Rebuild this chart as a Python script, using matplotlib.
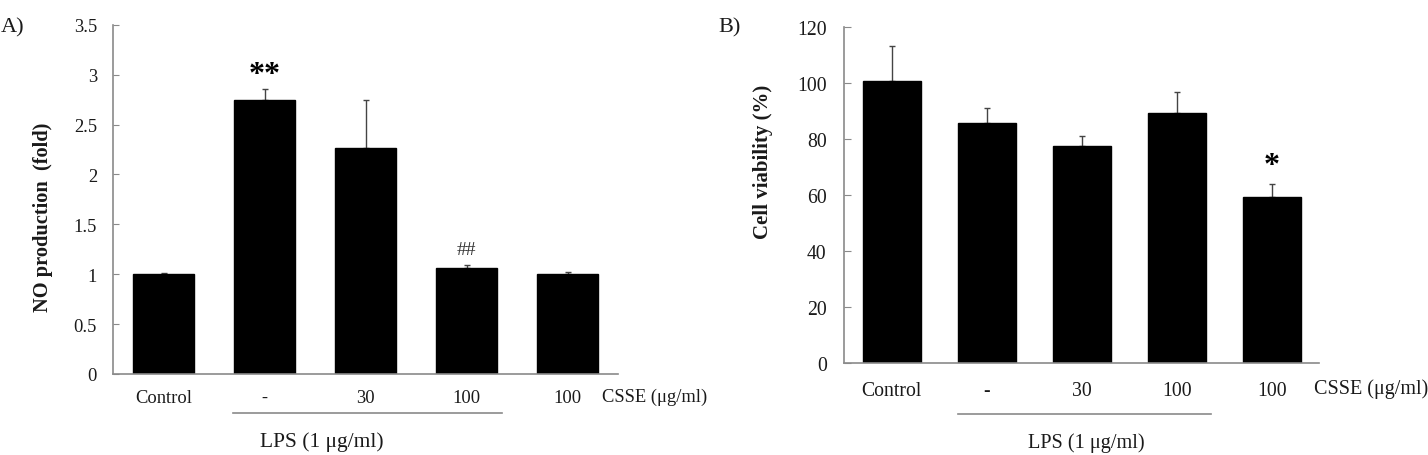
import matplotlib
matplotlib.use("Agg")
import matplotlib.pyplot as plt
import numpy as np

plt.rcParams['font.family'] = ['Liberation Serif', 'DejaVu Serif']

categories = ["Control", "-", "30", "100", "100"]

no_values = [1.00, 2.745, 2.26, 1.06, 1.00]
no_err = [0.01, 0.115, 0.485, 0.03, 0.02]
no_yticks = [0, 0.5, 1, 1.5, 2, 2.5, 3, 3.5]
no_yticklabels = ["0", "0.5", "1", "1.5", "2", "2.5", "3", "3.5"]

via_values = [100.7, 85.5, 77.5, 89.2, 59.1]
via_err = [12.3, 5.6, 3.6, 7.4, 4.7]
via_yticks = [0, 20, 40, 60, 80, 100, 120]

W, H = 1428, 456
fig = plt.figure(figsize=(W / 100, H / 100), dpi=100)

spine_col = "#8a8a8a"
text_col = "#1a1a1a"
err_col = "#444444"


def setup(ax):
    for s in ["top", "right"]:
        ax.spines[s].set_visible(False)
    for s in ["left", "bottom"]:
        ax.spines[s].set_color(spine_col)
        ax.spines[s].set_linewidth(1.2)
    ax.set_xlim(-0.5, 4.5)


x = np.arange(len(categories))

# Panel A
axA = fig.add_axes([113 / W, 81 / H, 505 / W, 349.3 / H])
setup(axA)
axA.bar(x, no_values, width=0.6, color="black", edgecolor="black", zorder=2)
axA.errorbar(x, no_values, yerr=[np.zeros(5), no_err], fmt="none",
             ecolor=err_col, elinewidth=1.0, capsize=2.5, capthick=1.0, zorder=1)
axA.set_ylim(0, 3.5)
axA.set_yticks(no_yticks)
axA.set_yticklabels(no_yticklabels, fontsize=13.3, color=text_col)
axA.tick_params(axis="y", direction="in", length=4.3, color=spine_col, pad=11.5)
axA.set_xticks(x)
axA.set_xticklabels(categories, fontsize=13.3, color=text_col)
axA.tick_params(axis="x", length=0, pad=11)
fig.text(43.5 / W, 1 - 217 / H, "NO production  (fold)", rotation=90,
         fontsize=14.7, fontweight="bold", ha="center", va="center", color=text_col)
axA.text(4.34, -0.063, "CSSE (μg/ml)", transform=axA.get_xaxis_transform(),
         ha="left", va="center", fontsize=13.3, color=text_col, clip_on=False)
axA.plot([0.69, 3.35], [-0.112, -0.112], transform=axA.get_xaxis_transform(),
         color=spine_col, lw=1.2, clip_on=False)
axA.text(1.57, -0.192, "LPS (1 μg/ml)", transform=axA.get_xaxis_transform(),
         ha="center", va="center", fontsize=15.5, color=text_col)
axA.text(1.0, 3.0, "**", ha="center", va="center", fontsize=23, fontweight="bold")
axA.text(3.0, 1.25, "##", ha="center", va="center", fontsize=14, color="#333333")
fig.text(1 / W, 1 - 28 / H, "A)", fontsize=16, ha="left", va="center", color=text_col)

# Panel B
axB = fig.add_axes([844.3 / W, 92.3 / H, 475 / W, 336 / H])
setup(axB)
axB.bar(x, via_values, width=0.614, color="black", edgecolor="black", zorder=2)
axB.errorbar(x, via_values, yerr=[np.zeros(5), via_err], fmt="none",
             ecolor=err_col, elinewidth=1.0, capsize=2.5, capthick=1.0, zorder=1)
axB.set_ylim(0, 120)
axB.set_yticks(via_yticks)
axB.set_yticklabels([str(v) for v in via_yticks], fontsize=14.2, color=text_col)
axB.tick_params(axis="y", direction="in", length=5, color=spine_col, pad=12.7)
axB.set_xticks(x)
axB.set_xticklabels(categories, fontsize=14.2, color=text_col)
axB.tick_params(axis="x", length=0, pad=13.2)
fig.text(763 / W, 1 - 162 / H, "Cell viability (%)", rotation=90,
         fontsize=15, fontweight="bold", ha="center", va="center", color=text_col)
axB.text(4.44, -0.077, "CSSE (μg/ml)", transform=axB.get_xaxis_transform(),
         ha="left", va="center", fontsize=14.5, color=text_col, clip_on=False)
axB.plot([0.70, 3.357], [-0.153, -0.153], transform=axB.get_xaxis_transform(),
         color=spine_col, lw=1.2, clip_on=False)
axB.text(2.05, -0.236, "LPS (1 μg/ml)", transform=axB.get_xaxis_transform(),
         ha="center", va="center", fontsize=14.6, color=text_col)
axB.text(4.0, 70.3, "*", ha="center", va="center", fontsize=23, fontweight="bold")
fig.text(718 / W, 1 - 28 / H, "B)", fontsize=16, ha="left", va="center", color=text_col)

fig.savefig("out.png", dpi=100, facecolor="white")
